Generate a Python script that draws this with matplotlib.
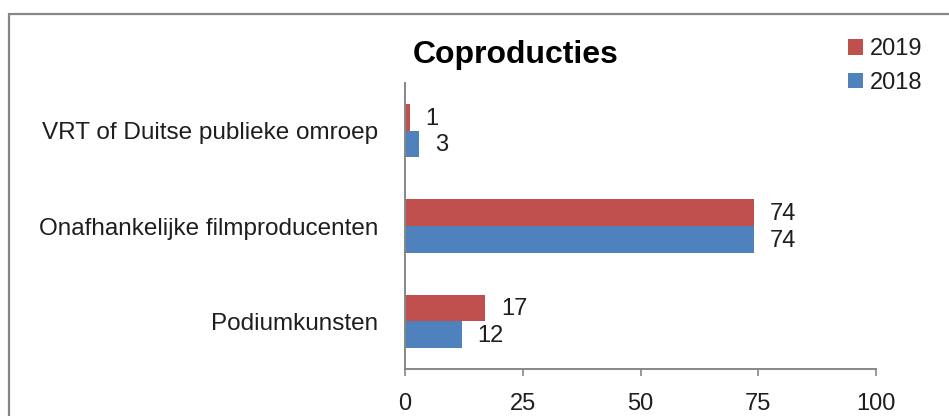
import matplotlib
matplotlib.use("Agg")
import matplotlib.pyplot as plt
from matplotlib.patches import Rectangle
import numpy as np

categories = ["Podiumkunsten", "Onafhankelijke filmproducenten", "VRT of Duitse publieke omroep"]
values_2018 = [12, 74, 3]
values_2019 = [17, 74, 1]
x_ticks = [0, 25, 50, 75, 100]

red = "#C0504D"
blue = "#4F81BD"
grey = "#868686"
txt = "#1e1e1e"
plt.rcParams["font.family"] = ["Liberation Sans", "DejaVu Sans"]

W, H = 949, 416
fig = plt.figure(figsize=(W / 100, H / 100), dpi=100)
ax = fig.add_axes([405 / W, 1 - 369 / H, (876 - 405) / W, (369 - 83) / H])

# outer chart frame, cut off at right and bottom like the reference
fig.patches.append(Rectangle((9 / W, -0.1), 1.2, 1 - 14 / H + 0.1, transform=fig.transFigure,
                             fill=False, edgecolor=grey, linewidth=1.6))

y = np.arange(len(categories))
h = 0.28
b18 = ax.barh(y - h / 2, values_2018, height=h, color=blue, label="2018")
b19 = ax.barh(y + h / 2, values_2019, height=h, color=red, label="2019")

for bars, vals in ((b18, values_2018), (b19, values_2019)):
    for bar, v in zip(bars, vals):
        ax.annotate(str(v), (bar.get_width(), bar.get_y() + bar.get_height() / 2),
                    xytext=(11.5, -1), textcoords="offset points", ha="left", va="center",
                    fontsize=17, color=txt)

ax.set_xlim(0, 100)
ax.set_ylim(-0.5, 2.5)
ax.set_xticks(x_ticks)
ax.set_yticks(y)
ax.set_yticklabels(categories)
ax.tick_params(axis="x", labelsize=17, length=5, width=1.2, color=grey, pad=12, labelcolor=txt)
ax.tick_params(axis="y", labelsize=17.5, length=0, pad=19, labelcolor=txt)
for s in ("top", "right"):
    ax.spines[s].set_visible(False)
for s in ("left", "bottom"):
    ax.spines[s].set_color(grey)
    ax.spines[s].set_linewidth(1.4)

fig.text(516 / W, 1 - 55 / H, "Coproducties", ha="center", va="center",
         fontsize=23, fontweight="bold", color="black")

fig.legend([b19, b18], ["2019", "2018"], loc="center left", bbox_to_anchor=(848 / W, 1 - 66 / H),
           frameon=False, fontsize=17, borderpad=0, borderaxespad=0, handlelength=0.64,
           handleheight=0.64, handletextpad=0.3, labelspacing=0.5, labelcolor=txt)

fig.savefig("out.png", dpi=100)
